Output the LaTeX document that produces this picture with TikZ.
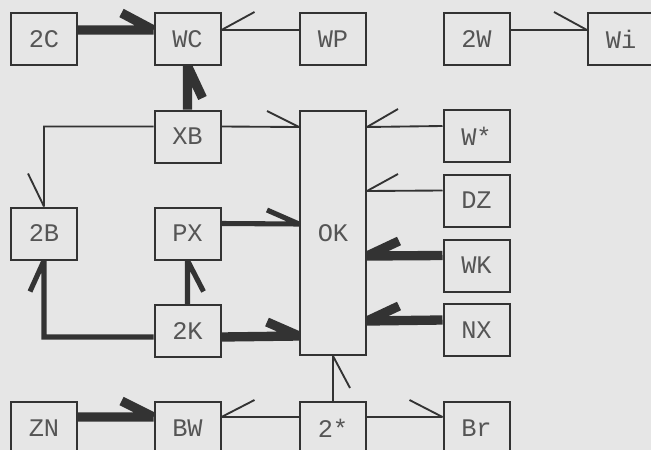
\documentclass[tikz,border=0pt]{standalone}
\usepackage{fontspec}
\setmonofont{Liberation Mono}
\usetikzlibrary{calc}
\definecolor{bg}{HTML}{E6E6E6}
\definecolor{ink}{HTML}{333333}
\definecolor{txt}{HTML}{555555}
\begin{document}
\begin{tikzpicture}[x=0.75pt,y=-0.75pt,
  box/.style={draw=ink,line width=1.5pt,minimum width=49.5pt,minimum height=39pt,inner sep=0pt,text=txt,font=\ttfamily\fontsize{19}{19}\selectfont},
  thinln/.style={draw=ink,line width=1.4pt},
  medln/.style={draw=ink,line width=3.8pt},
  thickln/.style={draw=ink,line width=7pt}]
\useasboundingbox (0,0) rectangle (651,450);
\fill[bg] (0,0) rectangle (651,450);
\clip (0,0) rectangle (651,450);
% boxes
\node[box] (n2C) at (44,39) {2C};
\node[box] (nWC) at (187.5,39) {WC};
\node[box] (nWP) at (333,39) {WP};
\node[box] (n2W) at (476.5,39) {2W};
\node[box] (nWi) at (621,39) {Wi};
\node[box] (nXB) at (187.5,136.5) {XB};
\node[box,minimum height=183pt] (nOK) at (333,233) {OK};
\node[box] (nWs) at (476.5,136) {W*};
\node[box] (nDZ) at (476.5,200.5) {DZ};
\node[box] (nWK) at (476.5,265.5) {WK};
\node[box] (nNX) at (476.5,330) {NX};
\node[box] (n2B) at (44,233.5) {2B};
\node[box] (nPX) at (187.5,233.5) {PX};
\node[box] (n2K) at (187.5,331) {2K};
\node[box] (nZN) at (44,428) {ZN};
\node[box] (nBW) at (187.5,428) {BW};
\node[box] (n2s) at (333,428) {2*};
\node[box] (nBr) at (476.5,428) {Br};
% connectors
\draw[thickln] ($(n2C.north east)+(0,18)$) -- ($(nWC.north west)+(0,18)$) ++(0,0) -- ++(-32,-17);
\draw[thinln] ($(nWP.north west)+(0,18)$) -- ($(nWC.north east)+(0,18)$) ++(0,0) -- ++(33,-18);
\draw[thinln] ($(n2W.north east)+(0,18)$) -- ($(nWi.north west)+(0,18)$) ++(0,0) -- ++(-33,-18);
\draw[thickln] (nXB.north) -- (nWC.south) ++(0,0) -- ++(15,32);
\draw[thinln] ($(nXB.north west)+(0,17)$) -| (n2B.north) ++(0,0) -- ++(-16,-33);
\draw[thinln] ($(nXB.north east)+(0,17)$) -- ($(nOK.north west)+(0,17)$) ++(0,0) -- ++(-32,-16);
\draw[medln] ($(nPX.north east)+(0,17)$) -- ($(nOK.north west)+(0,114)$) ++(0,0) -- ++(-32,-14);
\draw[medln] (n2K.north) -- (nPX.south) ++(0,0) -- ++(16,31);
\draw[medln] ($(n2K.west)+(0,6)$) -| (n2B.south) ++(0,0) -- ++(-14,31);
\draw[thickln] ($(n2K.east)+(0,6)$) -- ($(nOK.north west)+(0,226)$) ++(0,0) -- ++(-32,-14);
\draw[thinln] ($(nWs.north west)+(0,17)$) -- ($(nOK.north east)+(0,17)$) ++(0,0) -- ++(31,-18);
\draw[thinln] ($(nDZ.north west)+(0,17)$) -- ($(nOK.north east)+(0,81)$) ++(0,0) -- ++(31,-17);
\draw[thickln] ($(nWK.north west)+(0,17)$) -- ($(nOK.north east)+(0,146)$) ++(0,0) -- ++(32,-15);
\draw[thickln] ($(nNX.north west)+(0,17)$) -- ($(nOK.north east)+(0,211)$) ++(0,0) -- ++(32,-15);
\draw[thinln] (n2s.north) -- (nOK.south) ++(0,0) -- ++(17,32);
\draw[thinln] ($(n2s.north east)+(0,16)$) -- ($(nBr.north west)+(0,16)$) ++(0,0) -- ++(-33,-17);
\draw[thinln] ($(n2s.north west)+(0,16)$) -- ($(nBW.north east)+(0,16)$) ++(0,0) -- ++(33,-17);
\draw[thickln] ($(nZN.north east)+(0,16)$) -- ($(nBW.north west)+(0,16)$) ++(0,0) -- ++(-32,-16);
\end{tikzpicture}
\end{document}
